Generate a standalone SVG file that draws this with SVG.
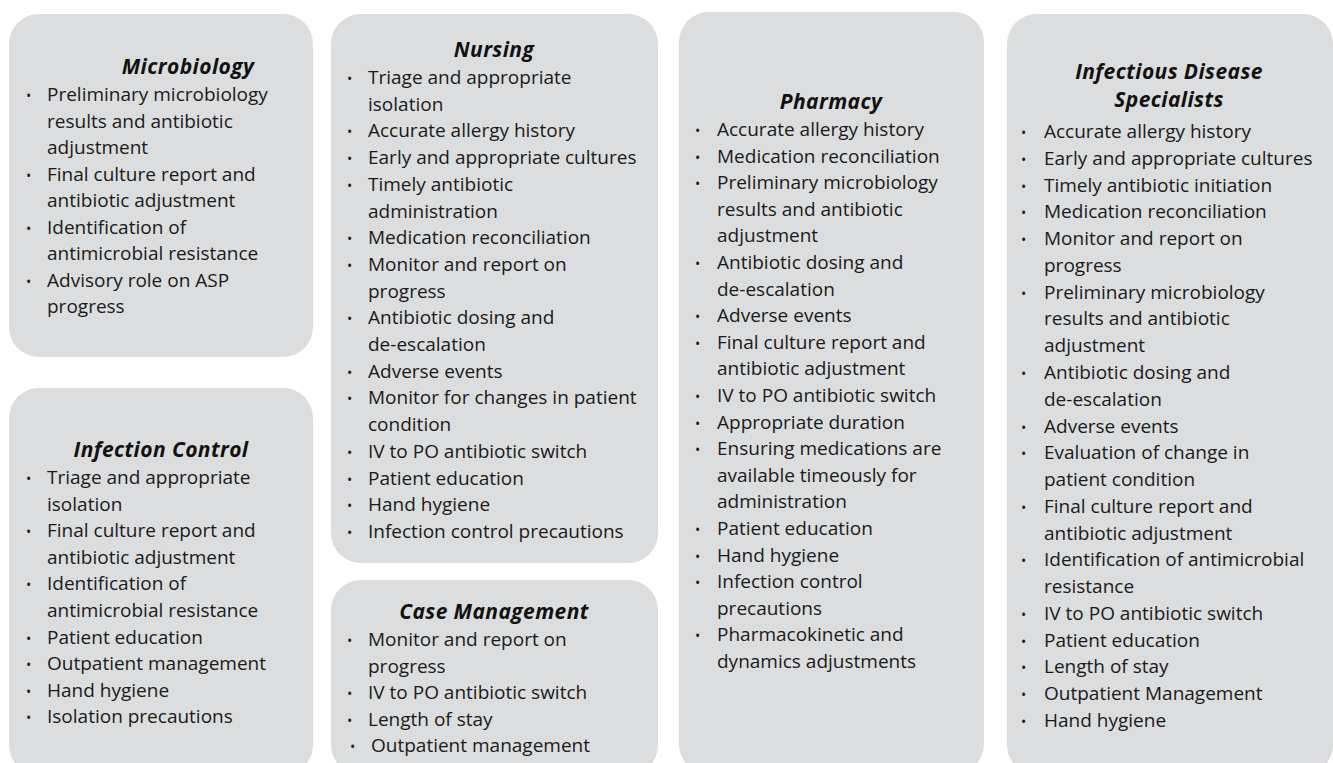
<svg xmlns="http://www.w3.org/2000/svg" width="1333" height="763" viewBox="0 0 1333 763">
<style>
.box{fill:#dcddde;}
.t{font-family:"Open Sans","Liberation Sans",sans-serif;font-size:19px;fill:#1a1a1a;}
.h{font-family:"Open Sans","Liberation Sans",sans-serif;font-size:21px;font-weight:bold;font-style:italic;letter-spacing:0.4px;fill:#111111;text-anchor:middle;}
.b{font-family:"Open Sans","Liberation Sans",sans-serif;font-size:14px;fill:#1a1a1a;}
</style>
<rect width="1333" height="763" fill="#ffffff"/>
<g id="connectors"></g>
<g id="microbiology">
<rect class="box" x="9" y="14" width="304" height="343" rx="30"/>
<text class="h" x="188" y="74">Microbiology</text>
<text class="b"><tspan x="26" y="101">•</tspan><tspan x="26" y="180.5">•</tspan><tspan x="26" y="233.5">•</tspan><tspan x="26" y="286.5">•</tspan></text>
<text class="t"><tspan x="47" y="101">Preliminary microbiology</tspan><tspan x="47" y="127.5">results and antibiotic</tspan><tspan x="47" y="154">adjustment</tspan><tspan x="47" y="180.5">Final culture report and</tspan><tspan x="47" y="207">antibiotic adjustment</tspan><tspan x="47" y="233.5">Identification of</tspan><tspan x="47" y="260">antimicrobial resistance</tspan><tspan x="47" y="286.5">Advisory role on ASP</tspan><tspan x="47" y="313">progress</tspan></text>
</g>
<g id="infection-control">
<rect class="box" x="9" y="388" width="304" height="387" rx="30"/>
<text class="h" x="161" y="457">Infection Control</text>
<text class="b"><tspan x="26" y="484">•</tspan><tspan x="26" y="537.2">•</tspan><tspan x="26" y="590.4">•</tspan><tspan x="26" y="643.6">•</tspan><tspan x="26" y="670.2">•</tspan><tspan x="26" y="696.8">•</tspan><tspan x="26" y="723.4">•</tspan></text>
<text class="t"><tspan x="47" y="484">Triage and appropriate</tspan><tspan x="47" y="510.6">isolation</tspan><tspan x="47" y="537.2">Final culture report and</tspan><tspan x="47" y="563.8">antibiotic adjustment</tspan><tspan x="47" y="590.4">Identification of</tspan><tspan x="47" y="617">antimicrobial resistance</tspan><tspan x="47" y="643.6">Patient education</tspan><tspan x="47" y="670.2">Outpatient management</tspan><tspan x="47" y="696.8">Hand hygiene</tspan><tspan x="47" y="723.4">Isolation precautions</tspan></text>
</g>
<g id="nursing">
<rect class="box" x="331" y="14" width="327" height="549" rx="30"/>
<text class="h" x="494" y="57">Nursing</text>
<text class="b"><tspan x="347" y="84">•</tspan><tspan x="347" y="137.4">•</tspan><tspan x="347" y="164.1">•</tspan><tspan x="347" y="190.8">•</tspan><tspan x="347" y="244.2">•</tspan><tspan x="347" y="270.9">•</tspan><tspan x="347" y="324.3">•</tspan><tspan x="347" y="377.7">•</tspan><tspan x="347" y="404.4">•</tspan><tspan x="347" y="457.8">•</tspan><tspan x="347" y="484.5">•</tspan><tspan x="347" y="511.2">•</tspan><tspan x="347" y="537.9">•</tspan></text>
<text class="t"><tspan x="368" y="84">Triage and appropriate</tspan><tspan x="368" y="110.7">isolation</tspan><tspan x="368" y="137.4">Accurate allergy history</tspan><tspan x="368" y="164.1">Early and appropriate cultures</tspan><tspan x="368" y="190.8">Timely antibiotic</tspan><tspan x="368" y="217.5">administration</tspan><tspan x="368" y="244.2">Medication reconciliation</tspan><tspan x="368" y="270.9">Monitor and report on</tspan><tspan x="368" y="297.6">progress</tspan><tspan x="368" y="324.3">Antibiotic dosing and</tspan><tspan x="368" y="351">de-escalation</tspan><tspan x="368" y="377.7">Adverse events</tspan><tspan x="368" y="404.4">Monitor for changes in patient</tspan><tspan x="368" y="431.1">condition</tspan><tspan x="368" y="457.8">IV to PO antibiotic switch</tspan><tspan x="368" y="484.5">Patient education</tspan><tspan x="368" y="511.2">Hand hygiene</tspan><tspan x="368" y="537.9">Infection control precautions</tspan></text>
</g>
<g id="case-management">
<rect class="box" x="331" y="580" width="327" height="195" rx="30"/>
<text class="h" x="494" y="619">Case Management</text>
<text class="b"><tspan x="347" y="646">•</tspan><tspan x="347" y="699">•</tspan><tspan x="347" y="725.5">•</tspan><tspan x="350" y="752">•</tspan></text>
<text class="t"><tspan x="368" y="646">Monitor and report on</tspan><tspan x="368" y="672.5">progress</tspan><tspan x="368" y="699">IV to PO antibiotic switch</tspan><tspan x="368" y="725.5">Length of stay</tspan><tspan x="371" y="752">Outpatient management</tspan></text>
</g>
<g id="pharmacy">
<rect class="box" x="679" y="12" width="305" height="762" rx="30"/>
<text class="h" x="831" y="109">Pharmacy</text>
<text class="b"><tspan x="695" y="136">•</tspan><tspan x="695" y="162.6">•</tspan><tspan x="695" y="189.2">•</tspan><tspan x="695" y="269">•</tspan><tspan x="695" y="322.2">•</tspan><tspan x="695" y="348.8">•</tspan><tspan x="695" y="402">•</tspan><tspan x="695" y="428.6">•</tspan><tspan x="695" y="455.2">•</tspan><tspan x="695" y="535">•</tspan><tspan x="695" y="561.6">•</tspan><tspan x="695" y="588.2">•</tspan><tspan x="695" y="641.4">•</tspan></text>
<text class="t"><tspan x="717" y="136">Accurate allergy history</tspan><tspan x="717" y="162.6">Medication reconciliation</tspan><tspan x="717" y="189.2">Preliminary microbiology</tspan><tspan x="717" y="215.8">results and antibiotic</tspan><tspan x="717" y="242.4">adjustment</tspan><tspan x="717" y="269">Antibiotic dosing and</tspan><tspan x="717" y="295.6">de-escalation</tspan><tspan x="717" y="322.2">Adverse events</tspan><tspan x="717" y="348.8">Final culture report and</tspan><tspan x="717" y="375.4">antibiotic adjustment</tspan><tspan x="717" y="402">IV to PO antibiotic switch</tspan><tspan x="717" y="428.6">Appropriate duration</tspan><tspan x="717" y="455.2">Ensuring medications are</tspan><tspan x="717" y="481.8">available timeously for</tspan><tspan x="717" y="508.4">administration</tspan><tspan x="717" y="535">Patient education</tspan><tspan x="717" y="561.6">Hand hygiene</tspan><tspan x="717" y="588.2">Infection control</tspan><tspan x="717" y="614.8">precautions</tspan><tspan x="717" y="641.4">Pharmacokinetic and</tspan><tspan x="717" y="668">dynamics adjustments</tspan></text>
</g>
<g id="infectious-disease-specialists">
<rect class="box" x="1007" y="14" width="326" height="761" rx="30"/>
<text class="h" x="1169" y="79">Infectious Disease</text>
<text class="h" x="1169" y="107">Specialists</text>
<text class="b"><tspan x="1021" y="138">•</tspan><tspan x="1021" y="164.8">•</tspan><tspan x="1021" y="191.5">•</tspan><tspan x="1021" y="218.3">•</tspan><tspan x="1021" y="245.1">•</tspan><tspan x="1021" y="298.6">•</tspan><tspan x="1021" y="378.9">•</tspan><tspan x="1021" y="432.5">•</tspan><tspan x="1021" y="459.2">•</tspan><tspan x="1021" y="512.8">•</tspan><tspan x="1021" y="566.3">•</tspan><tspan x="1021" y="619.9">•</tspan><tspan x="1021" y="646.6">•</tspan><tspan x="1021" y="673.4">•</tspan><tspan x="1021" y="700.2">•</tspan><tspan x="1021" y="726.9">•</tspan></text>
<text class="t"><tspan x="1044" y="138">Accurate allergy history</tspan><tspan x="1044" y="164.8">Early and appropriate cultures</tspan><tspan x="1044" y="191.5">Timely antibiotic initiation</tspan><tspan x="1044" y="218.3">Medication reconciliation</tspan><tspan x="1044" y="245.1">Monitor and report on</tspan><tspan x="1044" y="271.9">progress</tspan><tspan x="1044" y="298.6">Preliminary microbiology</tspan><tspan x="1044" y="325.4">results and antibiotic</tspan><tspan x="1044" y="352.2">adjustment</tspan><tspan x="1044" y="378.9">Antibiotic dosing and</tspan><tspan x="1044" y="405.7">de-escalation</tspan><tspan x="1044" y="432.5">Adverse events</tspan><tspan x="1044" y="459.2">Evaluation of change in</tspan><tspan x="1044" y="486">patient condition</tspan><tspan x="1044" y="512.8">Final culture report and</tspan><tspan x="1044" y="539.6">antibiotic adjustment</tspan><tspan x="1044" y="566.3">Identification of antimicrobial</tspan><tspan x="1044" y="593.1">resistance</tspan><tspan x="1044" y="619.9">IV to PO antibiotic switch</tspan><tspan x="1044" y="646.6">Patient education</tspan><tspan x="1044" y="673.4">Length of stay</tspan><tspan x="1044" y="700.2">Outpatient Management</tspan><tspan x="1044" y="726.9">Hand hygiene</tspan></text>
</g>
</svg>
